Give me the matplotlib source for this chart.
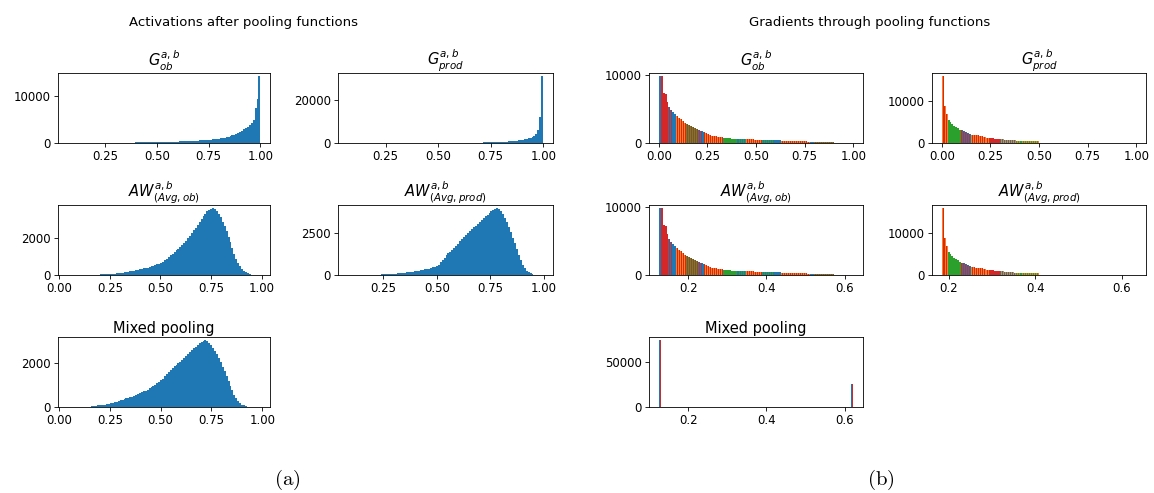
import numpy as np
import matplotlib
matplotlib.use("Agg")
import matplotlib.pyplot as plt

# ---- activations after pooling (100-bin histograms, counts per bin) ----
g_ob_act_range = (0.07, 1.0)
g_ob_act = [
    30, 30, 40, 30, 30, 40, 30, 30, 30, 30,
    40, 30, 30, 30, 40, 40, 40, 40, 50, 50,
    50, 50, 60, 60, 60, 60, 70, 70, 80, 80,
    80, 90, 90, 100, 100, 110, 110, 120, 120, 130,
    130, 140, 150, 150, 160, 170, 180, 190, 200, 210,
    220, 230, 240, 250, 270, 280, 300, 310, 330, 350,
    360, 380, 400, 420, 440, 460, 490, 510, 540, 570,
    600, 630, 660, 700, 740, 780, 830, 880, 940, 1000,
    1080, 1160, 1250, 1350, 1470, 1600, 1750, 1920, 2120, 2350,
    2600, 2900, 3250, 3500, 3800, 4300, 5000, 7400, 9400, 14200,
]

g_prod_act_range = (0.07, 1.0)
g_prod_act = [
    10, 10, 10, 10, 10, 10, 10, 10, 10, 10,
    10, 10, 10, 10, 10, 10, 10, 10, 10, 10,
    10, 10, 10, 10, 10, 20, 20, 20, 20, 20,
    20, 20, 20, 20, 20, 30, 30, 30, 30, 30,
    30, 40, 40, 40, 40, 50, 50, 50, 60, 60,
    60, 70, 70, 80, 80, 90, 90, 100, 110, 120,
    130, 140, 150, 160, 170, 180, 200, 210, 230, 250,
    270, 290, 310, 340, 370, 400, 440, 480, 520, 570,
    620, 680, 740, 810, 890, 980, 1080, 1200, 1330, 1480,
    1650, 1850, 2100, 2400, 2800, 3400, 4300, 6000, 12000, 31000,
]

aw_ob_act_range = (0.042, 0.993)
aw_ob_act = [
    5, 0, 0, 5, 0, 5, 5, 5, 10, 10,
    10, 15, 15, 20, 20, 25, 25, 30, 35, 40,
    50, 55, 60, 70, 80, 90, 100, 110, 125, 140,
    160, 175, 190, 210, 230, 250, 270, 300, 320, 350,
    380, 400, 430, 460, 500, 530, 570, 610, 660, 720,
    800, 880, 970, 1060, 1150, 1240, 1330, 1420, 1520, 1620,
    1730, 1850, 1980, 2110, 2250, 2400, 2550, 2700, 2850, 3000,
    3150, 3300, 3420, 3500, 3550, 3580, 3520, 3420, 3280, 3100,
    2870, 2620, 2350, 2050, 1750, 1450, 1150, 880, 650, 470,
    330, 220, 140, 85, 45, 25, 12, 6, 3, 1,
]

aw_prod_act_range = (0.085, 0.997)
aw_prod_act = [
    2, 2, 3, 3, 4, 5, 5, 6, 7, 8,
    10, 12, 14, 16, 18, 20, 25, 30, 35, 40,
    50, 55, 60, 70, 80, 90, 100, 110, 120, 135,
    150, 165, 180, 200, 220, 240, 260, 290, 320, 340,
    350, 380, 410, 450, 490, 540, 620, 750, 880, 1030,
    1180, 1290, 1400, 1520, 1640, 1750, 1880, 2010, 2140, 2270,
    2400, 2510, 2620, 2730, 2840, 2950, 3060, 3170, 3280, 3390,
    3500, 3600, 3700, 3800, 3900, 3950, 3980, 3940, 3800, 3620,
    3400, 3150, 2850, 2550, 2230, 1900, 1550, 1200, 900, 620,
    400, 250, 150, 90, 50, 25, 12, 6, 3, 1,
]

mixed_act_range = (0.042, 0.991)
mixed_act = [
    0, 0, 2, 0, 0, 0, 2, 0, 3, 0,
    0, 5, 40, 45, 55, 70, 80, 90, 100, 110,
    130, 150, 170, 190, 210, 240, 270, 300, 330, 360,
    390, 420, 450, 480, 510, 550, 590, 630, 670, 710,
    750, 800, 850, 900, 960, 1020, 1080, 1150, 1220, 1300,
    1400, 1500, 1600, 1690, 1780, 1860, 1940, 2010, 2080, 2160,
    2240, 2330, 2420, 2510, 2600, 2680, 2760, 2840, 2920, 2990,
    3030, 3050, 3020, 2950, 2850, 2720, 2580, 2420, 2240, 2050,
    1850, 1640, 1420, 1200, 980, 760, 560, 390, 260, 170,
    110, 70, 40, 20, 10, 5, 2, 1, 0, 1,
]

# ---- gradients through pooling (100 bins, 4 window positions) ----
# per-bin height, and runs of (end_bin, series_a, series_b): the two
# window positions that carry that bin's count
grad_ob_heights = [
    9800, 9800, 7300, 7200, 6100, 5300, 4800, 4500, 4200, 3900,
    3700, 3500, 3300, 3000, 2800, 2600, 2500, 2300, 2200, 2100,
    1900, 1800, 1700, 1600, 1500, 1350, 1200, 1100, 1050, 1000,
    950, 900, 850, 800, 750, 700, 700, 650, 650, 650,
    600, 600, 600, 600, 600, 550, 550, 550, 550, 500,
    500, 500, 500, 500, 450, 450, 450, 450, 400, 400,
    400, 400, 380, 350, 350, 330, 320, 300, 300, 290,
    280, 270, 260, 250, 240, 230, 220, 210, 200, 180,
    150, 130, 120, 110, 100, 100, 90, 90, 80, 80,
    70, 70, 60, 60, 50, 50, 50, 40, 40, 30,
]
grad_ob_runs = [
    (1, 0, 0), (4, 3, 3), (7, 0, 3), (9, 0, 0), (14, 1, 3), (20, 2, 3),
    (24, 0, 3), (33, 1, 3), (40, 2, 2), (45, 0, 2), (53, 1, 3), (60, 2, 0),
    (63, 0, 0), (78, 1, 3), (80, 0, 0), (100, 2, 3),
]

grad_prod_heights = [
    16000, 8900, 7000, 5500, 5000, 4600, 4100, 3800, 3500, 3200,
    3000, 2800, 2600, 2400, 2200, 2000, 1900, 1800, 1800, 1700,
    1600, 1500, 1400, 1300, 1250, 1200, 1100, 1050, 1000, 950,
    900, 850, 800, 800, 750, 700, 650, 600, 550, 550,
    500, 500, 500, 450, 450, 450, 400, 400, 400, 400,
    100, 80, 70, 60, 60, 50, 50, 50, 40, 40,
    40, 40, 30, 30, 30, 30, 30, 30, 30, 30,
    30, 20, 20, 20, 20, 20, 20, 20, 20, 20,
    20, 20, 20, 20, 20, 20, 20, 20, 20, 20,
    10, 10, 10, 10, 10, 10, 10, 10, 10, 10,
]
grad_prod_runs = [
    (1, 1, 3), (3, 3, 1), (10, 2, 2), (15, 3, 0), (25, 1, 3), (30, 3, 3),
    (38, 0, 1), (50, 2, 1), (100, 2, 3),
]

g_ob_grad_range = (0.0, 1.0)
g_prod_grad_range = (0.0, 1.0)
aw_ob_grad_range = (0.125, 0.622)
aw_prod_grad_range = (0.184, 0.634)

mixed_grad_range = (0.125, 0.622)
mixed_grad_first = 74000
mixed_grad_last = 25000
mixed_grad_runs = [(1, 0, 3), (99, 0, 0), (100, 0, 3)]

SERIES_COLORS = ["#1f77b4", "#ff7f0e", "#2ca02c", "#d62728"]
N_BINS = 100


def _edges(rng, n=N_BINS):
    return np.linspace(rng[0], rng[1], n + 1)


def plot_act(ax, counts, rng):
    edges = _edges(rng, len(counts))
    centers = 0.5 * (edges[:-1] + edges[1:])
    ax.hist(centers, bins=edges, weights=counts, color="C0")


def plot_grad(ax, heights, runs, rng):
    h = np.asarray(heights, dtype=float)
    edges = _edges(rng, len(h))
    w = edges[1] - edges[0]
    col_a, col_b = [], []
    start = 0
    for end, a, b in runs:
        col_a += [SERIES_COLORS[a]] * (end - start)
        col_b += [SERIES_COLORS[b]] * (end - start)
        start = end
    # two window positions side by side inside every bin
    ax.bar(edges[:-1], h, width=w / 2, align="edge", color=col_a, linewidth=0)
    ax.bar(edges[:-1] + w / 2, h, width=w / 2, align="edge", color=col_b,
           linewidth=0)
    ax.set_xlim(rng[0] - 0.05 * (rng[1] - rng[0]),
                rng[1] + 0.05 * (rng[1] - rng[0]))


def style(ax, title, xticks, yticks):
    ax.set_title(title, fontsize=10.5, pad=3)
    ax.set_xticks(xticks)
    ax.set_yticks(yticks)
    ax.tick_params(labelsize=8.5, width=0.6, length=3, pad=2)
    for s in ax.spines.values():
        s.set_linewidth(0.6)


fig = plt.figure(figsize=(11.54, 4.93), dpi=100)

W, H = 1154.0, 493.0


def add_axes(x0, x1, y0, y1):
    return fig.add_axes([x0 / W, 1 - y1 / H, (x1 - x0) / W, (y1 - y0) / H])


rows = [(73, 143), (205, 275), (337, 407)]
left_cols = [(58, 270), (338, 553)]
right_cols = [(649, 863), (932, 1146)]

t_ob = r"$G^{a,b}_{ob}$"
t_prod = r"$G^{a,b}_{prod}$"
t_awob = r"$AW^{a,b}_{(Avg,ob)}$"
t_awprod = r"$AW^{a,b}_{(Avg,prod)}$"

x_act = [0.25, 0.5, 0.75, 1.0]
x_act0 = [0.0, 0.25, 0.5, 0.75, 1.0]
x_grad = [0.0, 0.25, 0.5, 0.75, 1.0]
x_aw = [0.2, 0.4, 0.6]

# (a) activations
ax = add_axes(*left_cols[0], *rows[0])
plot_act(ax, g_ob_act, g_ob_act_range)
style(ax, t_ob, x_act, [0, 10000])

ax = add_axes(*left_cols[1], *rows[0])
plot_act(ax, g_prod_act, g_prod_act_range)
style(ax, t_prod, x_act, [0, 20000])

ax = add_axes(*left_cols[0], *rows[1])
plot_act(ax, aw_ob_act, aw_ob_act_range)
style(ax, t_awob, x_act0, [0, 2000])

ax = add_axes(*left_cols[1], *rows[1])
plot_act(ax, aw_prod_act, aw_prod_act_range)
style(ax, t_awprod, x_act, [0, 2500])

ax = add_axes(*left_cols[0], *rows[2])
plot_act(ax, mixed_act, mixed_act_range)
style(ax, "Mixed pooling", x_act0, [0, 2000])

# (b) gradients
ax = add_axes(*right_cols[0], *rows[0])
plot_grad(ax, grad_ob_heights, grad_ob_runs, g_ob_grad_range)
style(ax, t_ob, x_grad, [0, 10000])

ax = add_axes(*right_cols[1], *rows[0])
plot_grad(ax, grad_prod_heights, grad_prod_runs, g_prod_grad_range)
style(ax, t_prod, x_grad, [0, 10000])

ax = add_axes(*right_cols[0], *rows[1])
plot_grad(ax, grad_ob_heights, grad_ob_runs, aw_ob_grad_range)
style(ax, t_awob, x_aw, [0, 10000])

ax = add_axes(*right_cols[1], *rows[1])
plot_grad(ax, grad_prod_heights, grad_prod_runs, aw_prod_grad_range)
style(ax, t_awprod, x_aw, [0, 10000])

mixed_heights = np.zeros(N_BINS)
mixed_heights[0] = mixed_grad_first
mixed_heights[-1] = mixed_grad_last
ax = add_axes(*right_cols[0], *rows[2])
plot_grad(ax, mixed_heights, mixed_grad_runs, mixed_grad_range)
style(ax, "Mixed pooling", x_aw, [0, 50000])

fig.text(0.211, 0.955, "Activations after pooling functions",
         ha="center", va="center", fontsize=9.5)
fig.text(0.754, 0.955, "Gradients through pooling functions",
         ha="center", va="center", fontsize=9.5)

plt.rcParams["mathtext.fontset"] = "cm"
fig.text(0.249, 0.027, r"$\mathrm{(a)}$", ha="center", va="center", fontsize=15)
fig.text(0.763, 0.027, r"$\mathrm{(b)}$", ha="center", va="center", fontsize=15)

fig.savefig("out.png", dpi=100)
